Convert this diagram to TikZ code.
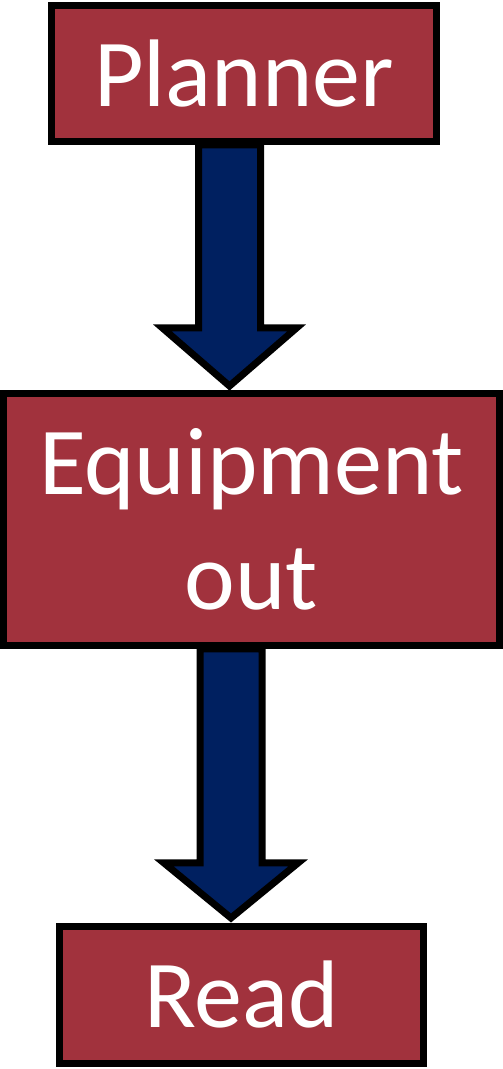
\documentclass[tikz,border=0pt]{standalone}
\usepackage{fontspec}
\setmainfont{Carlito}
\usepackage{tikz}
\usetikzlibrary{calc,backgrounds}
\definecolor{boxred}{RGB}{161,50,61}
\definecolor{arrownavy}{RGB}{0,32,96}
\tikzset{
  stagebox/.style={draw=black, line width=7pt, fill=boxred, text=white,
    font=\fontsize{96}{115}\selectfont, inner sep=0pt, align=center},
  fatarrow/.style={draw=black, line width=7pt, fill=arrownavy, line join=miter}
}
\begin{document}
\begin{tikzpicture}[x=1pt,y=1pt]
\useasboundingbox (0,0) rectangle (503,1069);
% Stages
\node[stagebox, minimum width=385, minimum height=136] (planner) at (244,995.5) {Planner};
\node[stagebox, minimum width=496, minimum height=252] (equip) at (251.5,549.5) {Equipment\\out};
\node[stagebox, minimum width=364, minimum height=137] (read) at (241.5,74) {Read};

% Block arrows between stages
\begin{scope}[on background layer]
\coordinate (a1s) at ($(planner.south)+(-14.5,0)$);
\coordinate (a1t) at ($(a1s |- equip.north)+(0,4)$);
\draw[fatarrow] ($(a1s)+(-31,0)$) -- ($(a1t)+(-31,58)$) -- ($(a1t)+(-67,58)$) -- (a1t)
  -- ($(a1t)+(67,58)$) -- ($(a1t)+(31,58)$) -- ($(a1s)+(31,0)$) -- cycle;
\coordinate (a2s) at ($(equip.south)+(-20.5,0)$);
\coordinate (a2t) at ($(a2s |- read.north)+(0,5)$);
\draw[fatarrow] ($(a2s)+(-31,0)$) -- ($(a2t)+(-31,55)$) -- ($(a2t)+(-67,55)$) -- (a2t)
  -- ($(a2t)+(67,55)$) -- ($(a2t)+(31,55)$) -- ($(a2s)+(31,0)$) -- cycle;
\end{scope}
\end{tikzpicture}
\end{document}
